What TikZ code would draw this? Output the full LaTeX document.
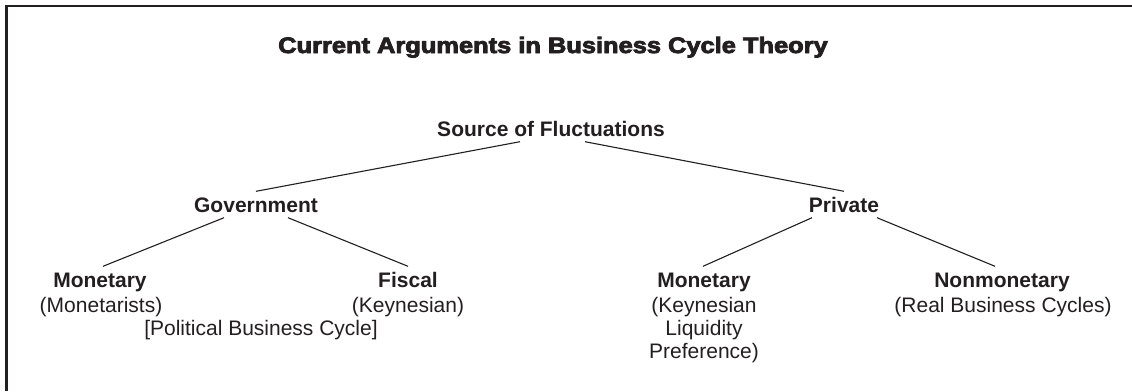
\documentclass[tikz,border=0pt]{standalone}
\usepackage{graphicx}
\usepackage{fontspec}
\setmainfont{Liberation Sans}
\newfontfamily\titlefont{Liberation Sans Bold}[FakeBold=3.5]
\definecolor{ink}{HTML}{231F20}
\begin{document}
\begin{tikzpicture}[x=1pt,y=-1pt,
  head/.style={font=\fontsize{21}{23.5}\selectfont\bfseries, text=ink, anchor=base,
               inner xsep=2pt, inner ysep=5.5pt, text height=15pt, text depth=0pt},
  note/.style={font=\fontsize{21}{23.5}\selectfont, text=ink, anchor=base, inner sep=0pt},
  link/.style={draw=ink, line width=1.1pt}]
\useasboundingbox (0,0) rectangle (1132,391);
% frame: top and left rules only
\draw[ink, line width=2.4pt] (6.3,391) -- (6.3,6) -- (1132,6);

% title
\node[anchor=base, text=ink, inner sep=0pt] (title) at (553,53)
  {\titlefont\fontsize{22.3}{24}\selectfont\scalebox{1.14}[1]{Current Arguments in Business Cycle Theory}};

% tree nodes
\node[head] (src)  at (551,136) {Source of Fluctuations};
\node[head] (gov)  at (256,212) {Government};
\node[head] (priv) at (844,212) {Private};

\node[head] (mon1) at (100,287) {Monetary};
\node[note] (mon1n) at (101,312) {(Monetarists)};
\node[note] (pbc)  at (261,335) {[Political Business Cycle]};

\node[head] (fis)  at (408,287) {Fiscal};
\node[note] (fisn) at (408,312) {(Keynesian)};

\node[head] (mon2) at (704,287) {Monetary};
\node[note] (mon2a) at (704,312) {(Keynesian};
\node[note] (mon2b) at (704,335) {Liquidity};
\node[note] (mon2c) at (704,358) {Preference)};

\node[head] (non)  at (1002,287) {Nonmonetary};
\node[note] (nonn) at (1003,312) {(Real Business Cycles)};

% connectors
\draw[link] ([xshift=-31pt]src.south) -- (gov.north);
\draw[link] ([xshift=34pt]src.south) -- (priv.north);
\draw[link] ([xshift=-32pt]gov.south) -- ([xshift=3pt]mon1.north);
\draw[link] ([xshift=32pt]gov.south) -- (fis.north);
\draw[link] ([xshift=-32pt]priv.south) -- ([xshift=-1pt]mon2.north);
\draw[link] ([xshift=33pt]priv.south) -- ([xshift=-7pt]non.north);
\end{tikzpicture}
\end{document}
